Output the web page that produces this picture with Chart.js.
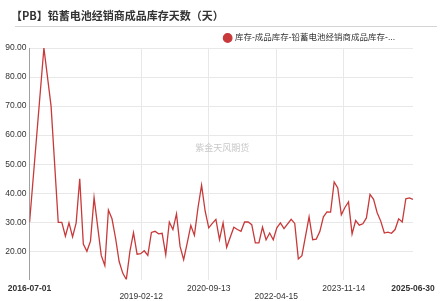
<!DOCTYPE html>
<html>
<head>
<meta charset="utf-8">
<script src="https://cdn.jsdelivr.net/npm/chart.js@4/dist/chart.umd.min.js"></script>
<style>
  body { margin: 0; background: #fff; }
  #wrap { position: relative; width: 443px; height: 301px; }
  #title { position: absolute; left: 11px; top: 7px; font: bold 11px 'Noto Sans CJK SC', sans-serif; color: #333; white-space: nowrap; }
  #rule { position: absolute; left: 15px; top: 26px; width: 422px; height: 1px; background: #d4d4d4; }
  canvas { position: absolute; left: 0; top: 0; }
</style>
</head>
<body>
<div id="wrap">
  <canvas id="myChart" width="443" height="301"></canvas>
  <div id="title">【PB】铅蓄电池经销商成品库存天数（天）</div>
  <div id="rule"></div>
</div>
<script>
// monthly observations, 2016-07 .. 2025-06 (null = no value, line spans over it)
const months = [
  '2016-07','2016-08','2016-09','2016-10','2016-11','2016-12',
  '2017-01','2017-02','2017-03','2017-04','2017-05','2017-06','2017-07','2017-08','2017-09','2017-10','2017-11','2017-12',
  '2018-01','2018-02','2018-03','2018-04','2018-05','2018-06','2018-07','2018-08','2018-09','2018-10','2018-11','2018-12',
  '2019-01','2019-02','2019-03','2019-04','2019-05','2019-06','2019-07','2019-08','2019-09','2019-10','2019-11','2019-12',
  '2020-01','2020-02','2020-03','2020-04','2020-05','2020-06','2020-07','2020-08','2020-09','2020-10','2020-11','2020-12',
  '2021-01','2021-02','2021-03','2021-04','2021-05','2021-06','2021-07','2021-08','2021-09','2021-10','2021-11','2021-12',
  '2022-01','2022-02','2022-03','2022-04','2022-05','2022-06','2022-07','2022-08','2022-09','2022-10','2022-11','2022-12',
  '2023-01','2023-02','2023-03','2023-04','2023-05','2023-06','2023-07','2023-08','2023-09','2023-10','2023-11','2023-12',
  '2024-01','2024-02','2024-03','2024-04','2024-05','2024-06','2024-07','2024-08','2024-09','2024-10','2024-11','2024-12',
  '2025-01','2025-02','2025-03','2025-04','2025-05','2025-06'
];
const stockDays = [
  30.0, null, null, null, 90.0, null,
  70.0, null, 30.0, 30.0, 25.2, 29.8, 25.0, 29.8, 45.0, 22.5, 20.0, 23.5,
  38.5, null, 18.6, 15.1, 34.2, 31.2, 24.5, 16.5, 12.5, 10.3, 20.0, 26.4,
  19.0, 19.2, 20.2, 18.6, 26.5, 26.9, 26.0, 26.2, 18.8, 30.1, 27.5, 32.9,
  21.7, 17.1, 22.9, 28.9, 25.5, 35.0, 42.8, 33.8, 28.1, 29.6, 31.0, 24.0,
  29.8, 21.4, null, 28.3, 27.5, 26.9, 30.1, 30.1, 29.2, 22.9, 22.9, 28.3,
  24.0, 26.3, 24.0, 28.1, 29.8, 27.8, null, 31.0, 29.6, 17.4, 18.5, null,
  31.9, 24.0, 24.2, 26.8, 31.9, 33.6, 33.5, 43.9, 41.8, 32.6, 35.1, 37.0,
  26.0, 30.6, 29.0, 29.5, 31.5, 39.6, 37.9, 33.3, 30.4, 26.3, 26.6, 26.2,
  27.5, 31.2, 30.1, 38.1, 38.4, 37.9, 39.6
];
const xTickDates = ['2016-07-01', '2019-02-12', '2020-09-13', '2022-04-15', '2023-11-14', '2025-06-30'];
const yTickValues = [20, 30, 40, 50, 60, 70, 80, 90];
const seriesName = '库存-成品库存-铅蓄电池经销商成品库存-...';

const monthIndex = m => (parseInt(m.slice(0, 4)) - 2016) * 12 + parseInt(m.slice(5, 7)) - 7;
const lastIdx = monthIndex(months[months.length - 1]);
const t0 = Date.parse(xTickDates[0]);
const tSpan = Date.parse(xTickDates[xTickDates.length - 1]) - t0;
const datePos = d => (Date.parse(d) - t0) / tSpan * lastIdx;

const FONT = "'Liberation Sans', 'Noto Sans CJK SC', sans-serif";
const RED = '#c8393a';

const watermark = {
  id: 'watermark',
  beforeDatasetsDraw(chart) {
    const a = chart.chartArea, c = chart.ctx;
    c.save();
    c.font = "9px 'Noto Sans CJK SC', sans-serif";
    c.fillStyle = '#c8c8c8';
    c.textAlign = 'center';
    c.textBaseline = 'middle';
    c.fillText('紫金天风期货', (a.left + a.right) / 2 + 1, 148);
    c.restore();
  }
};

// legend sits a bit left of the plot's right edge and a little lower
const legendShift = {
  id: 'legendShift',
  afterLayout(chart) {
    const L = chart.legend;
    L.left -= 15;
    L.right -= 15;
    L.top += 4.25;
    L.bottom += 4.25;
  }
};

var ctx = document.getElementById('myChart').getContext('2d');
var chart = new Chart(ctx, {
  type: 'line',
  data: {
    datasets: [{
      label: seriesName,
      data: months.map((m, i) => ({ x: monthIndex(m), y: stockDays[i] })),
      borderColor: RED,
      backgroundColor: RED,
      borderWidth: 1.3,
      pointRadius: 0,
      tension: 0,
      spanGaps: true
    }]
  },
  options: {
    responsive: false,
    animation: false,
    layout: { padding: { top: 26.5, right: 30, bottom: -4.5, left: 2.3 } },
    plugins: {
      legend: {
        position: 'top',
        align: 'end',
        labels: {
          usePointStyle: true,
          pointStyle: 'circle',
          boxWidth: 6,
          boxHeight: 6,
          padding: 3,
          color: '#333',
          font: { size: 8.5, family: FONT }
        }
      },
      tooltip: { enabled: false }
    },
    scales: {
      x: {
        type: 'linear',
        min: 0,
        max: lastIdx,
        afterBuildTicks: s => { s.ticks = xTickDates.map(d => ({ value: datePos(d) })); },
        grid: {
          drawTicks: false,
          color: c => (c.index === 0 || c.index === xTickDates.length - 1) ? 'rgba(0,0,0,0)' : '#e8e8e8'
        },
        border: { display: false },
        ticks: {
          autoSkip: false,
          maxRotation: 0,
          padding: 4.5,
          color: '#333',
          font: c => ({ size: 8.5, family: FONT, lineHeight: 1.0,
            weight: (c.index === 0 || c.index === xTickDates.length - 1) ? 'bold' : 'normal' }),
          callback: (v, i) => (i % 2 === 1 && i < xTickDates.length - 1) ? ['', xTickDates[i]] : xTickDates[i]
        }
      },
      y: {
        min: 10.3,
        max: 90,
        afterBuildTicks: s => { s.ticks = yTickValues.map(v => ({ value: v })); },
        grid: { drawTicks: false, color: '#e8e8e8' },
        border: { display: true, color: '#a0a0a0' },
        ticks: {
          padding: 3,
          color: '#333',
          font: { size: 8.5, family: FONT },
          callback: v => v.toFixed(2)
        }
      }
    }
  },
  plugins: [watermark, legendShift]
});
</script>
</body>
</html>
